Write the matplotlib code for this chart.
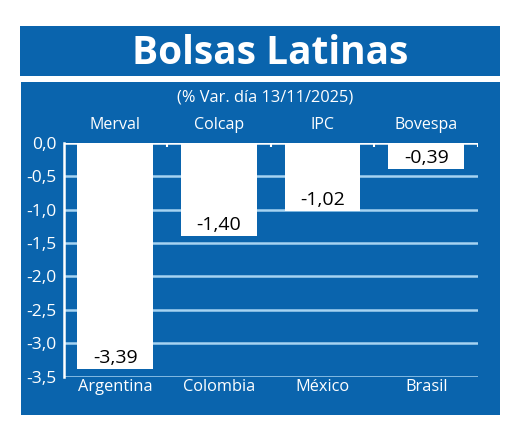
import matplotlib
matplotlib.use("Agg")
import matplotlib.pyplot as plt
from matplotlib.patches import Rectangle

# datos
indices = ["Merval", "Colcap", "IPC", "Bovespa"]
paises = ["Argentina", "Colombia", "México", "Brasil"]
variacion = [-3.39, -1.40, -1.02, -0.39]
yticks = [0.0, -0.5, -1.0, -1.5, -2.0, -2.5, -3.0, -3.5]

BLUE = "#0a64ad"
GRID = "#a6d3f2"
W, H = 520, 434

plt.rcParams['font.family'] = ['Open Sans', 'DejaVu Sans']


def fx(px):
    return px / W


def fy(py):
    return 1 - py / H


def fmt(v):
    return f"{v:.2f}".replace(".", ",")


fig = plt.figure(figsize=(W / 100, H / 100), dpi=100, facecolor="white")

# cajas de fondo (detras de los ejes)
fig.patches.append(Rectangle((fx(20), fy(76)), fx(500) - fx(20), fy(26) - fy(76),
                             transform=fig.transFigure, facecolor=BLUE, edgecolor="none",
                             zorder=-2))
fig.patches.append(Rectangle((fx(21), fy(415)), fx(500) - fx(21), fy(82) - fy(415),
                             transform=fig.transFigure, facecolor=BLUE, edgecolor="none",
                             zorder=-2))

fig.text(fx(270), fy(53), "Bolsas Latinas", color="white", fontsize=28,
         fontweight="bold", ha="center", va="center")
fig.text(fx(265), fy(97), "(% Var. día 13/11/2025)", color="white", fontsize=11.8,
         ha="center", va="center")

ax = fig.add_axes([fx(63.5), fy(376.7), fx(478) - fx(63.5), fy(142.8) - fy(376.7)])
ax.set_facecolor(BLUE)
x = list(range(len(variacion)))

ax.bar(x, variacion, width=0.73, color="white", zorder=3)
for yv in yticks[1:]:
    ax.axhline(yv, color=GRID, lw=1.8, zorder=1)
ax.axhline(0, color="white", lw=1.8, zorder=4)
ax.vlines([0.5, 1.5, 2.5, 3.5], -0.07, 0, color="white", lw=1.5, zorder=4)

for xi, v in zip(x, variacion):
    ax.annotate(fmt(v), (xi, v), xytext=(0, 1.5), textcoords="offset points",
                ha="center", va="bottom", fontsize=14, color="black", zorder=5)
    ax.text(xi, 0.27, indices[xi], ha="center", va="center", color="white",
            fontsize=11.5, clip_on=False)

ax.set_xlim(-0.5, 3.5)
ax.set_ylim(-3.5, 0)
ax.set_xticks(x)
ax.set_xticklabels(paises, color="white", fontsize=11.8)
ax.set_yticks(yticks)
ax.set_yticklabels([f"{v:.1f}".replace(".", ",") for v in yticks], color="white", fontsize=12.5)
ax.tick_params(length=0, pad=5)
ax.tick_params(axis="x", pad=2)
for s in ["top", "right", "bottom"]:
    ax.spines[s].set_visible(False)
ax.spines["left"].set_color("white")
ax.spines["left"].set_linewidth(1.8)
ax.spines["left"].set_zorder(4)

fig.savefig("out.png", dpi=100, facecolor="white")
